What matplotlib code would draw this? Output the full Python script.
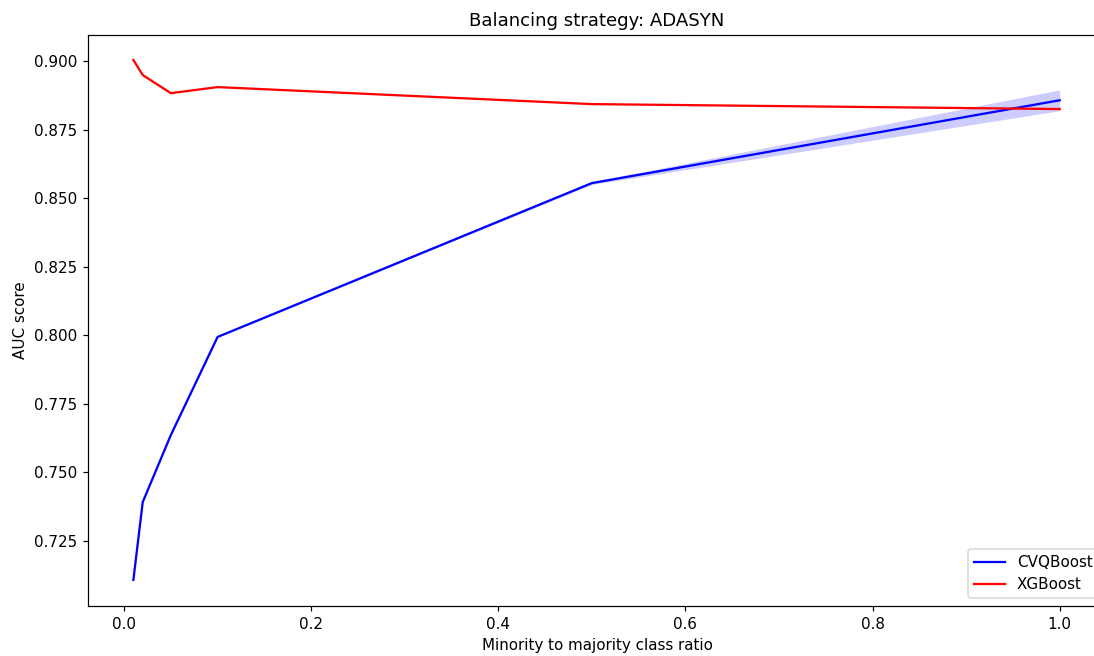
import numpy as np
import matplotlib
matplotlib.use("Agg")
import matplotlib.pyplot as plt

# data
ratios = [0.01, 0.02, 0.05, 0.1, 0.5, 1.0]
cvq_auc = [0.7108, 0.7392, 0.7636, 0.7994, 0.8555, 0.8857]
cvq_low = [0.7107, 0.7391, 0.7635, 0.7993, 0.8550, 0.8819]
cvq_high = [0.7109, 0.7393, 0.7637, 0.7995, 0.8560, 0.8895]
xgb_auc = [0.9004, 0.8949, 0.8883, 0.8905, 0.8843, 0.8825]

# reference text is a bit bigger than 100 dpi, so render at ~109 dpi
DPI = 109
fig = plt.figure(figsize=(1094 / DPI, 656 / DPI), dpi=DPI)
ax = fig.add_axes([88 / 1094, 50 / 656, (1106 - 88) / 1094, (606 - 35) / 656])

ax.plot(ratios, cvq_auc, color='blue', linewidth=1.5, label='CVQBoost')
ax.fill_between(ratios, cvq_low, cvq_high, color='blue', alpha=0.2, linewidth=0)
ax.plot(ratios, xgb_auc, color='red', linewidth=1.5, label='XGBoost')

ax.set_xlim(-0.0385, 1.0495)
ax.set_ylim(0.7013, 0.9095)
ax.set_yticks([0.725, 0.750, 0.775, 0.800, 0.825, 0.850, 0.875, 0.900])
ax.set_xticks([0.0, 0.2, 0.4, 0.6, 0.8, 1.0])

ax.set_xlabel('Minority to majority class ratio')
ax.set_ylabel('AUC score')
ax.set_title('Balancing strategy: ADASYN')
ax.legend(loc='lower right')

plt.savefig('out.png', dpi=DPI)
